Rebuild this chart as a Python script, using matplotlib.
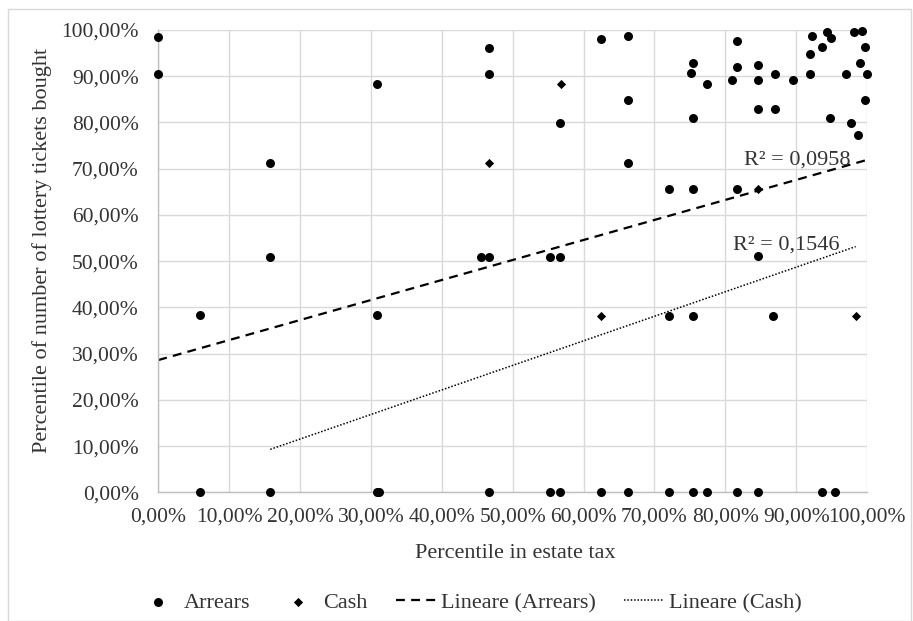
import numpy as np
import matplotlib
matplotlib.use("Agg")
import matplotlib.pyplot as plt
from matplotlib.ticker import FuncFormatter, MultipleLocator
from matplotlib.patches import Rectangle

plt.rcParams["font.family"] = ["Liberation Serif", "DejaVu Serif"]

# percentile in estate tax (x) / percentile of lottery tickets bought (y), in %
arrears_x = [0, 0, 5.9, 5.9, 15.8, 15.8, 15.8, 30.8, 30.8, 30.8, 31.1,
             45.6, 46.7, 46.7, 46.7, 46.7, 55.2, 55.2, 56.7, 56.7, 56.7,
             62.5, 62.5, 66.3, 66.3, 66.3, 66.3, 72.1, 72.1, 72.1,
             75.1, 75.5, 75.5, 75.5, 75.5, 75.5, 77.4, 77.4,
             81.0, 81.7, 81.7, 81.7, 81.7, 84.6, 84.6, 84.6, 84.6, 84.6,
             86.7, 87.0, 87.0, 89.5, 92.0, 92.0, 92.2, 93.6, 93.6,
             94.4, 94.9, 94.8, 95.5, 97.1, 97.7, 98.2, 98.8, 99.0,
             99.3, 99.7, 99.7, 100]
arrears_y = [98.5, 90.5, 38.4, 0, 71.3, 51.0, 0, 88.4, 38.4, 0, 0,
             51.0, 96.0, 90.5, 51.0, 0, 51.0, 0, 79.9, 51.0, 0,
             98.1, 0, 98.8, 84.9, 71.3, 0, 65.6, 38.2, 0,
             90.7, 92.9, 81.0, 65.6, 38.2, 0, 88.4, 0,
             89.2, 97.7, 92.1, 65.6, 0, 92.5, 89.2, 82.9, 51.1, 0,
             38.2, 90.5, 82.9, 89.2, 94.9, 90.5, 98.8, 96.4, 0,
             99.5, 98.3, 81.0, 0, 90.5, 79.9, 99.6, 77.2, 92.8,
             99.8, 96.4, 84.9, 90.5]

cash_x = [46.7, 56.8, 62.5, 84.6, 98.4]
cash_y = [71.3, 88.4, 38.2, 65.6, 38.2]

# linear trend lines as reported by the spreadsheet (slope, intercept, x range)
arrears_fit = [0.433, 28.6, 0.0, 100.0]
cash_fit = [0.531, 0.9, 15.8, 98.4]
r2_labels = ["R² = 0,0958", "R² = 0,1546"]

W, H = 913, 621
txt = "#333333"
fig = plt.figure(figsize=(W / 100, H / 100), dpi=100)
fig.patches.append(Rectangle((8 / W, 0), (911 - 8) / W, 1 - 9 / H,
                             transform=fig.transFigure, fill=False,
                             edgecolor="#d9d9d9", linewidth=1))

ax = fig.add_axes([158.3 / W, 1 - 492.3 / H, (867 - 158.3) / W, (492.3 - 30) / H])

ax.scatter(arrears_x, arrears_y, s=42, marker="o", color="black",
           linewidths=0, zorder=3, clip_on=False, label="Arrears")
ax.scatter(cash_x, cash_y, s=22, marker="D", color="black",
           linewidths=0, zorder=3, clip_on=False, label="Cash")

xa = np.linspace(arrears_fit[2], arrears_fit[3], 50)
ax.plot(xa, arrears_fit[0] * xa + arrears_fit[1], color="black", lw=1.6,
        dashes=(4, 2.8), zorder=2, label="Lineare (Arrears)")
xc = np.linspace(cash_fit[2], cash_fit[3], 50)
ax.plot(xc, cash_fit[0] * xc + cash_fit[1], color="black", lw=1.1,
        linestyle=(0, (1, 1.2)), zorder=2, label="Lineare (Cash)")

ax.text(82.7, 71.9, r2_labels[0], fontsize=16, va="center", ha="left", color=txt)
ax.text(81.1, 53.5, r2_labels[1], fontsize=16, va="center", ha="left", color=txt)

ax.set_xlim(0, 100)
ax.set_ylim(0, 100)
ax.xaxis.set_major_locator(MultipleLocator(10))
ax.yaxis.set_major_locator(MultipleLocator(10))
pct = FuncFormatter(lambda v, p: ("%.2f%%" % v).replace(".", ","))
ax.xaxis.set_major_formatter(pct)
ax.yaxis.set_major_formatter(pct)
ax.tick_params(length=0, labelsize=15.5, colors=txt)
ax.tick_params(axis="x", pad=11)
ax.tick_params(axis="y", pad=14)
ax.grid(True, color="#d9d9d9", linewidth=1)
ax.set_axisbelow(True)
for s in ["top", "right"]:
    ax.spines[s].set_visible(False)
for s in ["left", "bottom"]:
    ax.spines[s].set_color("#bfbfbf")
    ax.spines[s].set_linewidth(1)

fig.text(515 / W, 1 - 553 / H, "Percentile in estate tax", fontsize=16,
         color=txt, ha="center", va="center")
fig.text(42 / W, 1 - 250 / H, "Percentile of number of lottery tickets bought",
         fontsize=16, color=txt, ha="center", va="center", rotation=90)

handles, labels = ax.get_legend_handles_labels()
fig.legend(handles, labels, loc="center", bbox_to_anchor=(470 / W, 1 - 603 / H),
           ncol=4, frameon=False, fontsize=16, handlelength=1.8,
           columnspacing=1.25, handletextpad=0.25, labelcolor=txt)

fig.savefig("out.png", dpi=100)
